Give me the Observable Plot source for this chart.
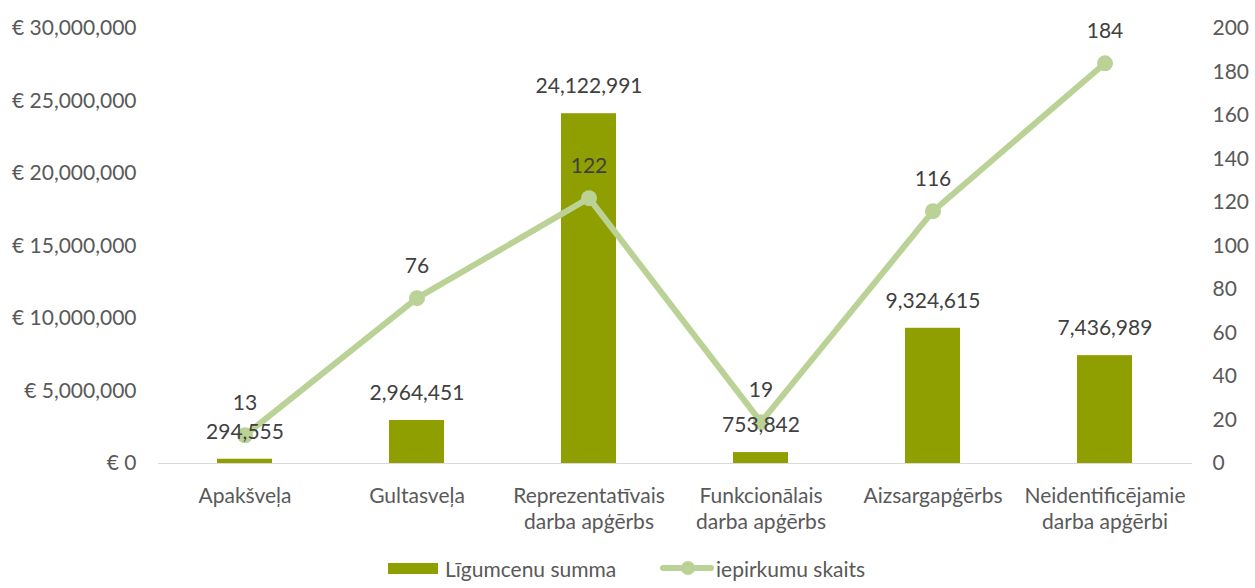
<!DOCTYPE html>
<html>
<head>
<meta charset="utf-8">
<script src="https://cdn.jsdelivr.net/npm/d3@7"></script>
<script src="https://cdn.jsdelivr.net/npm/@observablehq/plot@0.6"></script>
<style>
  body { margin: 0; background: #fff; font-family: Lato, "Open Sans", sans-serif; }
  #wrap { position: relative; width: 1255px; height: 588px; }
  #legend { position: absolute; left: 0; top: 556px; width: 1255px; height: 26px; font-size: 21px; color: #595959; }
  .sw-bar { position: absolute; left: 388px; top: 7px; width: 50px; height: 11px; background: #8F9E00; }
  .sw-line { position: absolute; left: 660px; top: 9px; width: 54px; height: 6px; background: #BAD296; border-radius: 3px; }
  .sw-dot { position: absolute; left: 681px; top: 5px; width: 14px; height: 14px; background: #BAD296; border-radius: 50%; }
  .lt { position: absolute; top: 0; line-height: 26px; white-space: nowrap; }
</style>
</head>
<body>
<div id="wrap">
  <div id="chart"></div>
  <div id="legend">
    <div class="sw-bar"></div><div class="lt" style="left:445px">Līgumcenu summa</div>
    <div class="sw-line"></div><div class="sw-dot"></div><div class="lt" style="left:716px">iepirkumu skaits</div>
  </div>
</div>
<script>
const categories = [
  "Apakšveļa",
  "Gultasveļa",
  "Reprezentatīvais\ndarba apģērbs",
  "Funkcionālais\ndarba apģērbs",
  "Aizsargapģērbs",
  "Neidentificējamie\ndarba apģērbi"
];
const contractSums = [294555, 2964451, 24122991, 753842, 9324615, 7436989];
const procurementCounts = [13, 76, 122, 19, 116, 184];
const leftTicks = [0, 5000000, 10000000, 15000000, 20000000, 25000000, 30000000];
const rightTicks = [0, 20, 40, 60, 80, 100, 120, 140, 160, 180, 200];

const leftMax = 30000000, rightMax = 200;
const k = leftMax / rightMax;

const data = categories.map((c, i) => ({cat: c, sum: contractSums[i], count: procurementCounts[i]}));
const fmt = d3.format(",");

const H = 556;
const FS = 21;
const chart = Plot.plot({
  width: 1255,
  height: H,
  marginLeft: 158,
  marginRight: 63,
  marginTop: 28,
  marginBottom: H - 463,
  style: {fontFamily: "Lato, 'Open Sans', sans-serif", fontSize: FS + "px", color: "#595959", background: "#fff"},
  x: {domain: categories, paddingInner: 0.68, paddingOuter: 0.34, axis: null},
  y: {domain: [0, leftMax], axis: null},
  marks: [
    Plot.barY(data, {x: "cat", y: "sum", fill: "#8F9E00"}),
    Plot.ruleY([0], {stroke: "#D9D9D9", strokeWidth: 1}),
    Plot.axisY({ticks: leftTicks, label: null, tickSize: 0, tickPadding: 22, tickFormat: d => "€ " + fmt(d), fill: "#595959", fontSize: FS}),
    Plot.axisY({anchor: "right", label: null, ticks: rightTicks.map(t => t * k), tickSize: 0, tickPadding: 20, tickFormat: d => String(Math.round(d / k)), fill: "#595959", fontSize: FS}),
    Plot.axisX({label: null, tickSize: 0, tickPadding: 21, lineHeight: 1.25, fill: "#595959", fontSize: FS}),
    Plot.line(data, {x: "cat", y: d => d.count * k, stroke: "#BAD296", strokeWidth: 6, strokeLinejoin: "round", strokeLinecap: "round"}),
    Plot.dot(data, {x: "cat", y: d => d.count * k, r: 8, fill: "#BAD296", stroke: "none"}),
    Plot.text(data, {x: "cat", y: "sum", text: d => fmt(d.sum), dy: -27, fill: "#404040", fontSize: FS}),
    Plot.text(data, {x: "cat", y: d => d.count * k, text: d => String(d.count), dy: -32, fill: "#404040", fontSize: FS})
  ]
});
document.getElementById("chart").appendChild(chart);
</script>
</body>
</html>
